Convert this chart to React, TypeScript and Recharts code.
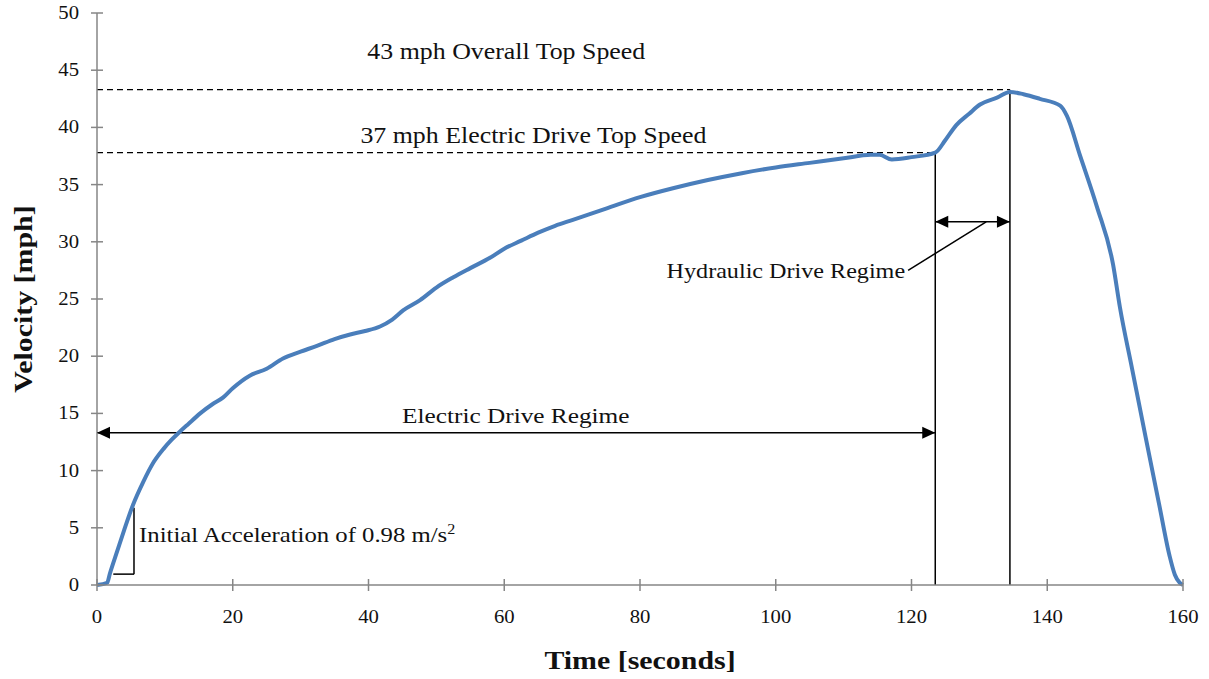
import React from "react";
import { LineChart, Line, XAxis, YAxis, ReferenceLine, ReferenceDot } from "recharts";

// velocity trace (time in seconds, velocity in mph)
const timeSec = [
  0, 1.5, 1.9, 3, 4, 5.3, 6.8, 8.2, 9.8, 11, 12.2, 13.5, 15.2, 17, 18.6, 20, 22.5, 25, 27.4, 30,
  32.4, 35, 37.3, 39.5, 41.7, 43.5, 45.1, 47.6, 50, 52.5, 55, 57.9, 60, 62.5, 65, 67.5, 70, 75, 80,
  85, 90, 95, 100, 105, 110, 114, 115.3, 117.1, 120, 123.5, 125, 126.6, 128.5, 130.1, 132.6, 134.5,
  136.5, 138.9, 141.9, 142.9, 144.8, 147.3, 149.7, 150.7, 152.5, 154.5, 156.5, 158, 158.8, 159.5, 160,
];
const velocityMph = [
  0, 0.2, 1.0, 3.0, 4.8, 7.0, 9.0, 10.6, 11.9, 12.7, 13.4, 14.1, 15.0, 15.8, 16.4, 17.2, 18.3, 18.9,
  19.8, 20.4, 20.9, 21.5, 21.9, 22.2, 22.6, 23.2, 24.0, 24.9, 26.0, 26.9, 27.7, 28.6, 29.4, 30.1,
  30.8, 31.4, 31.9, 32.9, 33.9, 34.7, 35.4, 36.0, 36.5, 36.9, 37.3, 37.6, 37.6, 37.2, 37.4, 37.8,
  38.9, 40.2, 41.2, 42.0, 42.6, 43.1, 42.9, 42.5, 41.9, 41.0, 37.6, 33.1, 28.0, 24.3, 18.9, 12.9,
  7.0, 2.6, 0.9, 0.2, 0,
];

const xTicks = [0, 20, 40, 60, 80, 100, 120, 140, 160];
const yTicks = [0, 5, 10, 15, 20, 25, 30, 35, 40, 45, 50];

// annotation values
const overallTop = 43.3;
const overallTopTime = 134.5;
const electricTop = 37.8;
const electricEndTime = 123.5;
const electricArrowV = 13.3;
const hydraulicArrowV = 31.75;
const accelStart = { t: 2.4, v: 0.95 };
const accelEnd = { t: 5.45, v: 6.75 };

const data = timeSec.map((t, i) => ({ t, v: velocityMph[i] }));

const FONT = "Times New Roman, Liberation Serif, serif";
const AXIS = "#868686";
const STRETCH = 1.15; // the original's serif text is set noticeably wide

// serif text, widened along its own baseline
const WideText = ({ x, y, size, anchor = "start", bold = false, rotate = 0, children }: any) => (
  <text
    transform={`translate(${x},${y}) rotate(${rotate}) scale(${STRETCH},1)`}
    textAnchor={anchor}
    style={{ fontFamily: FONT }}
    fontSize={size}
    fontWeight={bold ? "bold" : "normal"}
    fill="#111"
  >
    {children}
  </text>
);

const XTick = (props: any) => {
  const { x, y, payload } = props;
  return (
    <g>
      <line x1={x} y1={y - 6} x2={x} y2={y + 6} stroke={AXIS} strokeWidth={1.5} />
      <WideText x={x} y={y + 38} size={18} anchor="middle">{payload.value}</WideText>
    </g>
  );
};

const YTick = (props: any) => {
  const { x, y, payload } = props;
  return (
    <g>
      <line x1={x - 6} y1={y} x2={x + 6} y2={y} stroke={AXIS} strokeWidth={1.5} />
      <WideText x={x - 18} y={y + 6} size={18} anchor="end">{payload.value}</WideText>
    </g>
  );
};

const XTitle = (props: any) => {
  const { viewBox } = props;
  return (
    <WideText x={viewBox.x + viewBox.width / 2} y={669} size={26} anchor="middle" bold>
      Time [seconds]
    </WideText>
  );
};

const YTitle = (props: any) => {
  const { viewBox } = props;
  return (
    <WideText x={32} y={viewBox.y + viewBox.height / 2} size={26} anchor="middle" bold rotate={-90}>
      Velocity [mph]
    </WideText>
  );
};

const arrowHead = (dir: "left" | "right") => (props: any) => {
  const { cx, cy } = props;
  const L = 13;
  const H = 6;
  const pts =
    dir === "left"
      ? `${cx},${cy} ${cx + L},${cy - H} ${cx + L},${cy + H}`
      : `${cx},${cy} ${cx - L},${cy - H} ${cx - L},${cy + H}`;
  return <polygon points={pts} fill="#000" />;
};

const label = (text: string, anchor: string, dx: number, dy: number, size = 22.5) => (props: any) => {
  const { cx, cy } = props;
  return <WideText x={cx + dx} y={cy + dy} size={size} anchor={anchor}>{text}</WideText>;
};

const accelLabel = (props: any) => {
  const { cx, cy } = props;
  return (
    <WideText x={cx} y={cy} size={21.5}>
      Initial Acceleration of 0.98 m/s
      <tspan fontSize={14} dy={-8}>2</tspan>
    </WideText>
  );
};

export default function App() {
  return (
    <div style={{ position: "absolute", left: 0, top: 0, width: 1209, height: 679, background: "#fff" }}>
      <LineChart width={1209} height={679} data={data} margin={{ top: 13, right: 26, left: 0, bottom: 0 }}>
        <XAxis
          dataKey="t"
          type="number"
          domain={[0, 160]}
          ticks={xTicks}
          interval={0}
          stroke={AXIS}
          strokeWidth={1.5}
          tickLine={false}
          tickSize={0}
          tickMargin={0}
          tick={<XTick />}
          height={94}
          label={{ content: <XTitle /> } as any}
        />
        <YAxis
          type="number"
          domain={[0, 50]}
          ticks={yTicks}
          interval={0}
          stroke={AXIS}
          strokeWidth={1.5}
          tickLine={false}
          tickSize={0}
          tickMargin={0}
          tick={<YTick />}
          width={97}
          label={{ content: <YTitle /> } as any}
        />

        {/* top speed dashed guides */}
        <ReferenceLine
          segment={[{ x: 0, y: overallTop }, { x: overallTopTime, y: overallTop }]}
          stroke="#000"
          strokeDasharray="6 4"
          strokeWidth={1.2}
        />
        <ReferenceLine
          segment={[{ x: 0, y: electricTop }, { x: electricEndTime, y: electricTop }]}
          stroke="#000"
          strokeDasharray="6 4"
          strokeWidth={1.2}
        />

        {/* regime boundaries */}
        <ReferenceLine segment={[{ x: electricEndTime, y: 0 }, { x: electricEndTime, y: electricTop }]} stroke="#000" strokeWidth={1.5} />
        <ReferenceLine segment={[{ x: overallTopTime, y: 0 }, { x: overallTopTime, y: overallTop }]} stroke="#000" strokeWidth={1.5} />

        {/* electric regime arrow */}
        <ReferenceLine segment={[{ x: 0, y: electricArrowV }, { x: electricEndTime, y: electricArrowV }]} stroke="#000" strokeWidth={1.5} />
        <ReferenceDot x={0} y={electricArrowV} r={0} shape={arrowHead("left")} />
        <ReferenceDot x={electricEndTime} y={electricArrowV} r={0} shape={arrowHead("right")} />

        {/* hydraulic regime arrow */}
        <ReferenceLine segment={[{ x: electricEndTime, y: hydraulicArrowV }, { x: overallTopTime, y: hydraulicArrowV }]} stroke="#000" strokeWidth={1.5} />
        <ReferenceDot x={electricEndTime} y={hydraulicArrowV} r={0} shape={arrowHead("left")} />
        <ReferenceDot x={overallTopTime} y={hydraulicArrowV} r={0} shape={arrowHead("right")} />
        <ReferenceLine segment={[{ x: 131, y: hydraulicArrowV }, { x: 119.5, y: 27.5 }]} stroke="#000" strokeWidth={1.5} />

        {/* initial acceleration triangle */}
        <ReferenceLine segment={[{ x: accelStart.t, y: accelStart.v }, { x: accelEnd.t, y: accelStart.v }]} stroke="#000" strokeWidth={1.5} />
        <ReferenceLine segment={[{ x: accelEnd.t, y: accelStart.v }, { x: accelEnd.t, y: accelEnd.v }]} stroke="#000" strokeWidth={1.5} />

        <Line
          type="monotone"
          dataKey="v"
          stroke="#4A7EBB"
          strokeWidth={4}
          dot={false}
          isAnimationActive={false}
        />

        {/* text annotations */}
        <ReferenceDot x={60.3} y={46.7} r={0} shape={label("43 mph Overall Top Speed", "middle", 0, 8)} />
        <ReferenceDot x={64.3} y={39.3} r={0} shape={label("37 mph Electric Drive Top Speed", "middle", 0, 8)} />
        <ReferenceDot x={61.7} y={14.9} r={0} shape={label("Electric Drive Regime", "middle", 0, 8, 22)} />
        <ReferenceDot x={119.5} y={27.5} r={0} shape={label("Hydraulic Drive Regime", "end", -3, 8, 21)} />
        <ReferenceDot x={6.2} y={3.8} r={0} shape={accelLabel} />
      </LineChart>
    </div>
  );
}
